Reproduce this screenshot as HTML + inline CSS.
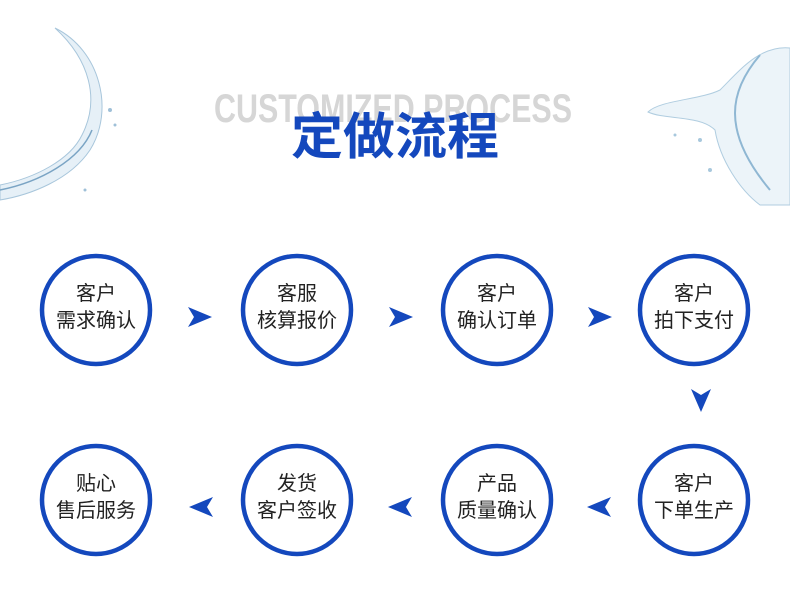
<!DOCTYPE html>
<html><head><meta charset="utf-8"><style>
html,body{margin:0;padding:0;background:#fff;width:790px;height:605px;overflow:hidden}
svg{display:block}
</style></head><body>
<svg width="790" height="605" viewBox="0 0 790 605" xmlns="http://www.w3.org/2000/svg">
<defs>
<linearGradient id="w1" x1="0" y1="0" x2="1" y2="1">
<stop offset="0" stop-color="#cfe3f0"/><stop offset="1" stop-color="#8fb7d3"/></linearGradient>
</defs>
<!-- left splash -->
<path d="M55 28 C100 50,115 110,90 150 C70 180,30 195,0 200 L0 185 C35 178,70 160,82 135 C100 100,90 60,55 28 Z" fill="#e4eff7" stroke="#9fc0d8" stroke-width="1" opacity="0.9"/>
<path d="M0 190 C40 182,80 160,92 130" fill="none" stroke="#7aa4c4" stroke-width="1.5"/>
<circle cx="110" cy="110" r="2" fill="#9fc0d8"/><circle cx="115" cy="125" r="1.5" fill="#9fc0d8"/><circle cx="85" cy="190" r="1.5" fill="#9fc0d8"/>
<!-- right splash -->
<path d="M790 48 C760 45,740 70,720 90 C700 100,660 100,648 112 C665 120,700 115,715 130 C720 160,740 190,760 205 L790 205 Z" fill="#eaf3f9" stroke="#a8c8dd" stroke-width="1" opacity="0.9"/>
<path d="M760 55 C730 90,720 130,770 190" fill="none" stroke="#8fb7d3" stroke-width="2"/>
<circle cx="700" cy="140" r="2" fill="#a8c8dd"/><circle cx="710" cy="170" r="2" fill="#a8c8dd"/><circle cx="675" cy="135" r="1.5" fill="#a8c8dd"/>
<!-- titles -->
<text x="393" y="122" text-anchor="middle" font-family="Liberation Sans Narrow, Liberation Sans, sans-serif" font-weight="bold" font-size="40" fill="#d6d6d6" textLength="358" lengthAdjust="spacingAndGlyphs">CUSTOMIZED PROCESS</text>
<text x="395" y="154" text-anchor="middle" font-family="Noto Sans CJK SC, sans-serif" font-weight="bold" font-size="50" fill="#1448bd" textLength="208" lengthAdjust="spacingAndGlyphs">定做流程</text>
<g fill="none" stroke="#1448bd" stroke-width="4.5">
<circle cx="96" cy="310" r="54"/><circle cx="297" cy="310" r="54"/><circle cx="497" cy="310" r="54"/><circle cx="694" cy="310" r="54"/>
<circle cx="96" cy="500" r="54"/><circle cx="297" cy="500" r="54"/><circle cx="497" cy="500" r="54"/><circle cx="694" cy="500" r="54"/>
</g>
<g fill="#1448bd">
<path d="M188 307 L212 317 L188 327 L194 317 Z"/>
<path d="M389 307 L413 317 L389 327 L395 317 Z"/>
<path d="M588 307 L612 317 L588 327 L594 317 Z"/>
<path d="M691 389 L701 412 L711 389 L701 395 Z"/>
<path d="M213 497 L189 507 L213 517 L207 507 Z"/>
<path d="M412 497 L388 507 L412 517 L406 507 Z"/>
<path d="M611 497 L587 507 L611 517 L605 507 Z"/>
</g>
<g font-family="Liberation Sans, Noto Sans CJK SC, sans-serif" font-size="20" fill="#222" text-anchor="middle">
<text x="96" y="300">客户</text><text x="96" y="327">需求确认</text>
<text x="297" y="300">客服</text><text x="297" y="327">核算报价</text>
<text x="497" y="300">客户</text><text x="497" y="327">确认订单</text>
<text x="694" y="300">客户</text><text x="694" y="327">拍下支付</text>
<text x="96" y="490">贴心</text><text x="96" y="517">售后服务</text>
<text x="297" y="490">发货</text><text x="297" y="517">客户签收</text>
<text x="497" y="490">产品</text><text x="497" y="517">质量确认</text>
<text x="694" y="490">客户</text><text x="694" y="517">下单生产</text>
</g>
</svg>
</body></html>
